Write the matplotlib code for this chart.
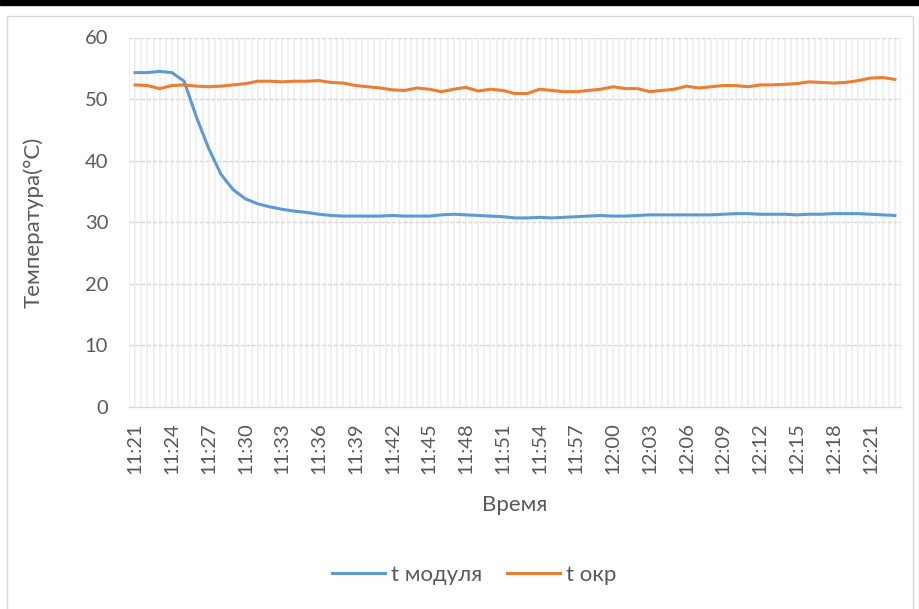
import matplotlib
matplotlib.use('Agg')
import matplotlib.pyplot as plt
from matplotlib.patches import Rectangle
import numpy as np

plt.rcParams['font.family'] = ['Lato', 'DejaVu Sans']

# minutes after 11:21, one reading per minute
minutes = list(range(63))
t_module = [54.3, 54.3, 54.5, 54.3, 52.9, 47.1, 42.0, 37.8, 35.3, 33.8,
            33.0, 32.5, 32.1, 31.8, 31.6, 31.3, 31.1, 31.0, 31.0, 31.0,
            31.0, 31.1, 31.0, 31.0, 31.0, 31.2, 31.3, 31.2, 31.1, 31.0,
            30.9, 30.7, 30.7, 30.8, 30.7, 30.8, 30.9, 31.0, 31.1, 31.0,
            31.0, 31.1, 31.2, 31.2, 31.2, 31.2, 31.2, 31.2, 31.3, 31.4,
            31.4, 31.3, 31.3, 31.3, 31.2, 31.3, 31.3, 31.4, 31.4, 31.4,
            31.3, 31.2, 31.1]
t_ambient = [52.3, 52.2, 51.7, 52.2, 52.3, 52.1, 52.0, 52.1, 52.3, 52.5,
             52.9, 52.9, 52.8, 52.9, 52.9, 53.0, 52.7, 52.6, 52.2, 52.0,
             51.8, 51.5, 51.4, 51.8, 51.6, 51.2, 51.6, 51.9, 51.3, 51.6,
             51.4, 50.9, 50.9, 51.6, 51.4, 51.2, 51.2, 51.4, 51.6, 52.0,
             51.7, 51.7, 51.2, 51.4, 51.6, 52.1, 51.8, 52.0, 52.2, 52.2,
             52.0, 52.3, 52.3, 52.4, 52.5, 52.8, 52.7, 52.6, 52.7, 53.0,
             53.4, 53.5, 53.2]
tick_labels = ['11:21', '11:24', '11:27', '11:30', '11:33', '11:36', '11:39',
               '11:42', '11:45', '11:48', '11:51', '11:54', '11:57', '12:00',
               '12:03', '12:06', '12:09', '12:12', '12:15', '12:18', '12:21']

W, H = 919, 609
fig = plt.figure(figsize=(W / 100, H / 100), dpi=100)

# chart frame and black strip at the top
fig.patches.append(Rectangle((7 / W, -0.1), 906 / W, 1.1 - 16 / H,
                             transform=fig.transFigure, fill=False,
                             edgecolor='#d9d9d9', lw=1.0))
fig.patches.append(Rectangle((0, 1 - 5 / H), 1, 5 / H,
                             transform=fig.transFigure, color='black'))

ax = fig.add_axes([129 / W, 1 - 407 / H, 772 / W, 369.5 / H])

for x in np.arange(-0.5, 63, 0.5):
    ax.axvline(x, color='#f1f1f1', lw=1.5, zorder=0.5)
for y in range(10, 61, 10):
    ax.axhline(y, color='#d9d9d9', lw=1.0, ls=(0, (3, 1.2)), zorder=0.8)

ax.plot(minutes, t_module, color='#5B9BD5', lw=2.2, label='t модуля',
        solid_joinstyle='round', zorder=3)
ax.plot(minutes, t_ambient, color='#ED7D31', lw=2.2, label='t окр',
        solid_joinstyle='round', zorder=3)

ax.set_xlim(-0.5, 62.5)
ax.set_ylim(0, 60)
ax.set_yticks(range(0, 61, 10))
ax.set_xticks(minutes[::3])
ax.set_xticklabels(tick_labels, rotation=90)

for s in ['top', 'right', 'left']:
    ax.spines[s].set_visible(False)
ax.spines['bottom'].set_color('#d9d9d9')
ax.spines['bottom'].set_linewidth(1.0)
ax.tick_params(axis='both', length=0, labelsize=14.5, colors='#595959')
ax.tick_params(axis='y', pad=15)
ax.tick_params(axis='x', pad=11)

ax.set_ylabel('Температура(°C)', fontsize=16, color='#595959', va='center')
ax.yaxis.set_label_coords((33 - 129) / 772, 0.5)
ax.set_xlabel('Время', fontsize=16, color='#595959', va='center')
ax.xaxis.set_label_coords(0.5, -(505 - 407) / 369.5)

fig.legend(loc='center', bbox_to_anchor=(474 / W, 1 - 575 / H), ncol=2,
           frameon=False, fontsize=16, labelcolor='#595959',
           handlelength=2.4, handletextpad=0.25, columnspacing=1.1)

fig.savefig('out.png', dpi=100)
